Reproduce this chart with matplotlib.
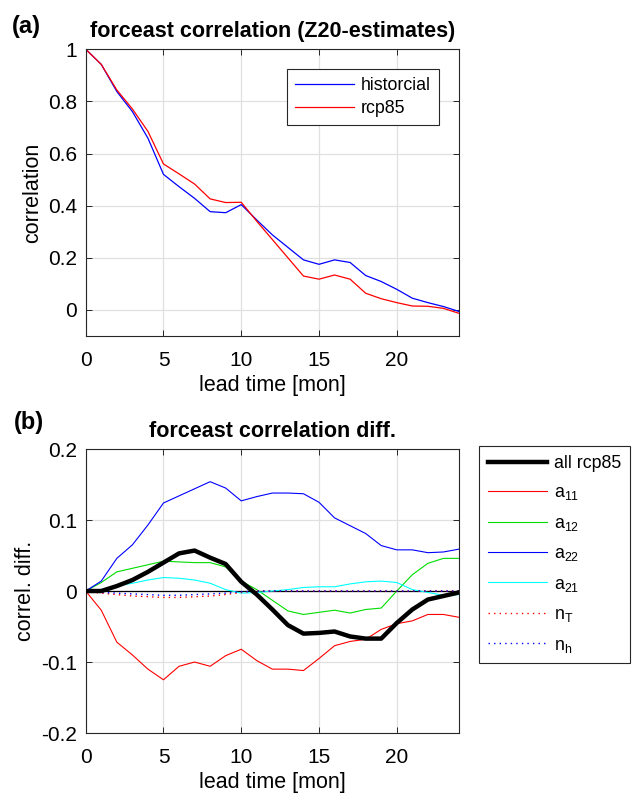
import matplotlib
matplotlib.use("Agg")
import matplotlib.pyplot as plt
import numpy as np

lead = list(range(25))

historical = [1.0, 0.942, 0.838, 0.761, 0.659, 0.52, 0.473, 0.428, 0.377, 0.373, 0.404,
              0.345, 0.288, 0.24, 0.192, 0.175, 0.192, 0.182, 0.132, 0.109, 0.079,
              0.045, 0.028, 0.013, -0.006]
rcp85 = [1.0, 0.942, 0.844, 0.771, 0.685, 0.56, 0.522, 0.483, 0.426, 0.412, 0.413,
         0.34, 0.27, 0.2, 0.13, 0.118, 0.134, 0.118, 0.064, 0.043, 0.028,
         0.015, 0.014, 0.006, -0.013]

all_rcp85 = [0, 0.0, 0.007, 0.0155, 0.027, 0.04, 0.053, 0.057, 0.047, 0.038, 0.013,
             -0.005, -0.026, -0.048, -0.06, -0.059, -0.057, -0.064, -0.067, -0.067, -0.045,
             -0.026, -0.012, -0.007, -0.002]
a11 = [0, -0.027, -0.072, -0.09, -0.11, -0.125, -0.106, -0.1, -0.106, -0.091, -0.082,
       -0.098, -0.11, -0.11, -0.112, -0.095, -0.077, -0.071, -0.068, -0.054, -0.046,
       -0.042, -0.033, -0.033, -0.037]
a12 = [0, 0.012, 0.027, 0.032, 0.037, 0.042, 0.041, 0.04, 0.04, 0.034, 0.014,
       0.002, -0.013, -0.028, -0.033, -0.030, -0.027, -0.031, -0.026, -0.024, 0.0,
       0.023, 0.039, 0.046, 0.046]
a22 = [0, 0.014, 0.046, 0.065, 0.093, 0.124, 0.134, 0.144, 0.154, 0.145, 0.127,
       0.133, 0.138, 0.138, 0.137, 0.125, 0.103, 0.092, 0.081, 0.064, 0.058,
       0.058, 0.054, 0.055, 0.059]
a21 = [0, 0.002, 0.007, 0.011, 0.0155, 0.019, 0.018, 0.0155, 0.011, 0.002, -0.003,
       -0.002, 0.0, 0.002, 0.005, 0.006, 0.006, 0.01, 0.013, 0.014, 0.012,
       0.002, -0.002, -0.006, -0.005]
nT = [0, -0.003, -0.005, -0.007, -0.008, -0.009, -0.009, -0.008, -0.007, -0.005, -0.002,
      0, 0, 0, 0, 0, 0, 0, 0, 0, 0, 0, 0, 0, 0]
nh = [0, -0.002, -0.003, -0.004, -0.005, -0.006, -0.006, -0.005, -0.004, -0.003, -0.001,
      0, 0, 0, 0, 0, 0, 0, 0, 0, 0, 0, 0, 0, 0]

plt.rcParams['font.family'] = ['Liberation Sans', 'DejaVu Sans']
plt.rcParams['font.size'] = 13
plt.rcParams['mathtext.fontset'] = 'custom'
plt.rcParams['mathtext.rm'] = 'Liberation Sans'
plt.rcParams['mathtext.it'] = 'Liberation Sans'

fig = plt.figure(figsize=(6.33, 7.96), dpi=100)
ax1 = fig.add_axes([0.1354, 0.5779, 0.5897, 0.3602])
ax2 = fig.add_axes([0.1354, 0.0791, 0.5897, 0.3568])

def style(ax):
    ax.set_xlim(0, 24)
    ax.set_xticks([0, 5, 10, 15, 20])
    ax.grid(True, color='#e0e0e0', lw=0.9)
    ax.set_axisbelow(True)
    ax.tick_params(direction='in', top=True, right=True, length=4, width=0.7,
                   labelsize=15, pad=6, color='#262626')
    ax.tick_params(axis='x', pad=11)
    for s in ax.spines.values():
        s.set_linewidth(0.8)
        s.set_color('#262626')
    ax.set_xlabel('lead time [mon]', fontsize=15.5, labelpad=3.5)

ax1.plot(lead, historical, color='#0000ff', lw=0.9, label='historcial')
ax1.plot(lead, rcp85, color='#ff0000', lw=0.9, label='rcp85')
ax1.set_ylim(-0.1, 1)
ax1.set_yticks([0, 0.2, 0.4, 0.6, 0.8, 1])
ax1.set_yticklabels(['0', '0.2', '0.4', '0.6', '0.8', '1'])
style(ax1)
ax1.set_ylabel('correlation', fontsize=15.5, labelpad=4)
ax1.set_title('forceast correlation (Z20-estimates)', fontsize=15.5, fontweight='bold', pad=8.5)
leg1 = ax1.legend(loc='upper right', bbox_to_anchor=(0.946, 0.931), borderaxespad=0,
                  fontsize=12.8, fancybox=False, edgecolor='#262626', framealpha=1,
                  handlelength=3.3, handletextpad=0.4, borderpad=0.45, labelspacing=0.35)
leg1.get_frame().set_linewidth(0.8)

ax2.axhline(0, color='black', lw=0.9, zorder=1)
ax2.plot(lead, all_rcp85, color='black', lw=3.2, label='all rcp85', zorder=5)
ax2.plot(lead, a11, color='#ff0000', lw=0.8, label='a$_{11}$')
ax2.plot(lead, a12, color='#00dd00', lw=0.8, label='a$_{12}$')
ax2.plot(lead, a22, color='#0000ff', lw=0.8, label='a$_{22}$')
ax2.plot(lead, a21, color='#00ffff', lw=0.8, label='a$_{21}$')
ax2.plot(lead, nT, color='#ff0000', lw=1.0, ls=(0, (1, 3)), label='n$_{\\mathrm{T}}$')
ax2.plot(lead, nh, color='#0000ff', lw=1.0, ls=(0, (1, 3)), label='n$_{\\mathrm{h}}$')
ax2.set_ylim(-0.2, 0.2)
ax2.set_yticks([-0.2, -0.1, 0, 0.1, 0.2])
ax2.set_yticklabels(['-0.2', '-0.1', '0', '0.1', '0.2'])
style(ax2)
ax2.set_ylabel('correl. diff.', fontsize=15.5, labelpad=4)
ax2.set_title('forceast correlation diff.', fontsize=15.5, fontweight='bold', pad=8.5)
leg2 = ax2.legend(loc='upper left', bbox_to_anchor=(1.0536, 1.0106), borderaxespad=0,
                  fontsize=12.8, fancybox=False, edgecolor='#262626', framealpha=1,
                  handlelength=3.3, handletextpad=0.4, borderpad=0.5, labelspacing=0.7)
leg2.get_frame().set_linewidth(0.8)

fig.text(0.018, 0.958, '(a)', fontsize=17, fontweight='bold')
fig.text(0.022, 0.461, '(b)', fontsize=17, fontweight='bold')

fig.savefig('out.png', dpi=100)
